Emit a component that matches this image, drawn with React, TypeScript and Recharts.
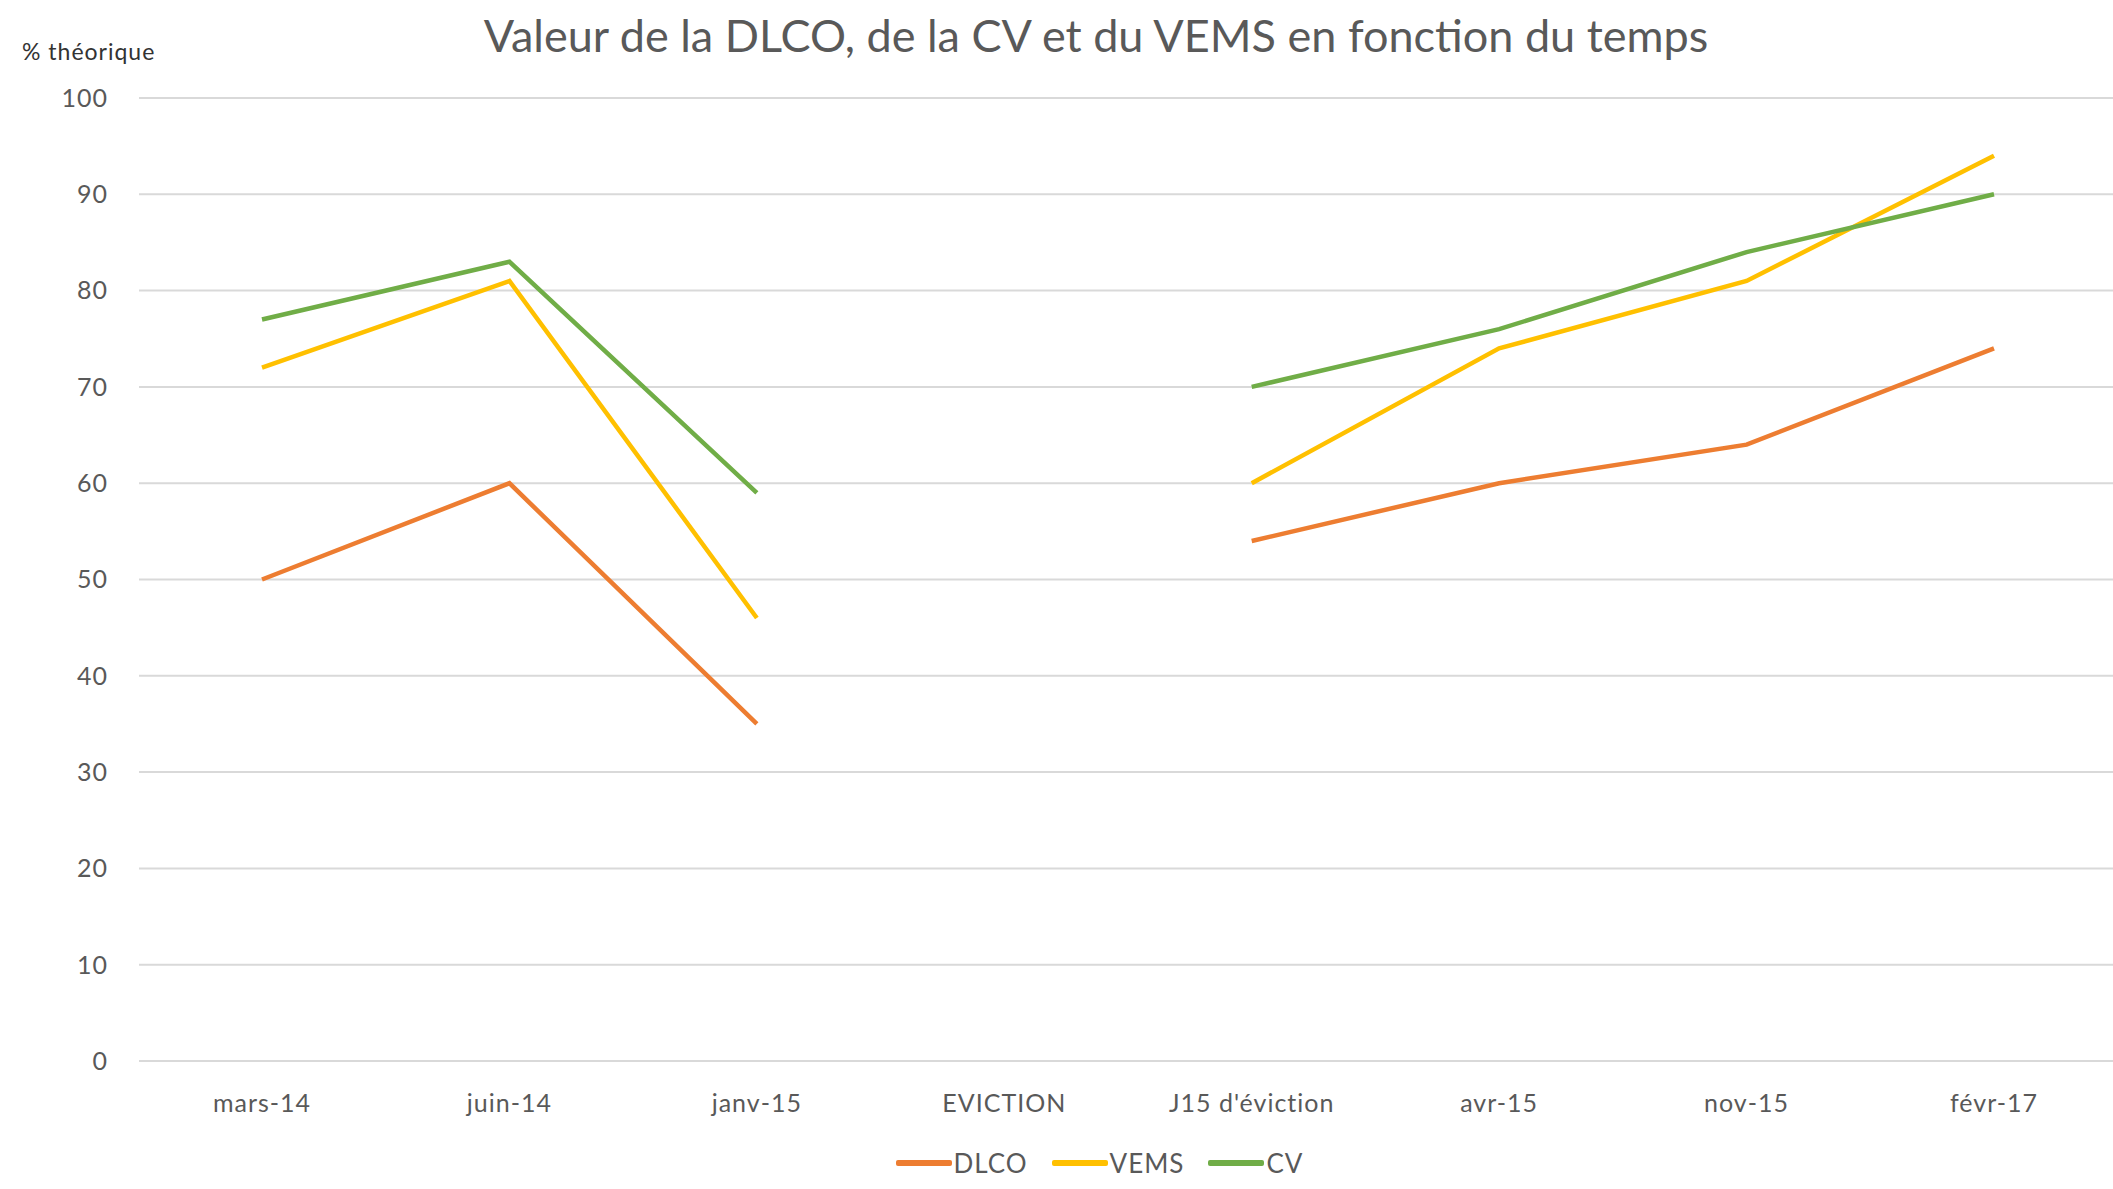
import React from 'react'
import { LineChart, Line, XAxis, YAxis, CartesianGrid, Legend } from 'recharts'

const categories = ['mars-14', 'juin-14', 'janv-15', 'EVICTION', "J15 d'éviction", 'avr-15', 'nov-15', 'févr-17']
const dlco = [50, 60, 35, null, 54, 60, 64, 74]
const vems = [72, 81, 46, null, 60, 74, 81, 94]
const cv = [77, 83, 59, null, 70, 76, 84, 90]
const yTicks = [0, 10, 20, 30, 40, 50, 60, 70, 80, 90, 100]

const series = [
  { dataKey: 'DLCO', color: '#ED7D31' },
  { dataKey: 'VEMS', color: '#FFC000' },
  { dataKey: 'CV', color: '#70AD47' },
]

const data = categories.map((nom, i) => ({ nom, DLCO: dlco[i], VEMS: vems[i], CV: cv[i] }))

const FONT = 'Lato, "Open Sans", sans-serif'
const TEXT = '#595959'

function LegendContent() {
  return (
    <div style={{ display: 'flex', justifyContent: 'center', alignItems: 'center', height: 50 }}>
      <div style={{ display: 'flex', alignItems: 'center', marginLeft: 110 }}>
        {series.map((s) => (
          <div key={s.dataKey} style={{ display: 'flex', alignItems: 'center', marginRight: 24 }}>
            <span style={{ display: 'inline-block', width: 56, height: 6, background: s.color, borderRadius: 2 }} />
            <span style={{ fontFamily: FONT, fontSize: 26, color: TEXT, marginLeft: 2, letterSpacing: 1 }}>
              {s.dataKey}
            </span>
          </div>
        ))}
      </div>
    </div>
  )
}

export default function App() {
  return (
    <div style={{ position: 'absolute', left: 0, top: 0, width: 2113, height: 1189, background: '#fff' }}>
      <div
        style={{
          position: 'absolute',
          top: 8,
          left: 0,
          width: 2192,
          textAlign: 'center',
          fontFamily: FONT,
          fontSize: 45,
          color: TEXT,
        }}
      >
        Valeur de la DLCO, de la CV et du VEMS en fonction du temps
      </div>
      <div
        style={{
          position: 'absolute',
          top: 37,
          left: 22,
          fontFamily: FONT,
          fontSize: 23,
          letterSpacing: 1,
          color: '#333',
        }}
      >
        % théorique
      </div>
      <LineChart width={2113} height={1189} data={data} margin={{ top: 98, right: 0, left: 0, bottom: 1 }}>
        <CartesianGrid vertical={false} stroke="#d9d9d9" strokeWidth={2} />
        <XAxis
          dataKey="nom"
          padding={{ left: 123, right: 119 }}
          axisLine={false}
          tickLine={false}
          tickSize={0}
          tickMargin={33}
          height={77}
          interval={0}
          tick={{ fill: TEXT, fontSize: 25, fontFamily: FONT, letterSpacing: 1 }}
        />
        <YAxis
          domain={[0, 100]}
          ticks={yTicks}
          width={139}
          axisLine={false}
          tickLine={false}
          tickSize={0}
          tickMargin={31}
          tick={{ fill: TEXT, fontSize: 25, fontFamily: FONT, letterSpacing: 1 }}
        />
        <Legend verticalAlign="bottom" height={50} content={<LegendContent />} />
        {series.map((s) => (
          <Line
            key={s.dataKey}
            type="linear"
            dataKey={s.dataKey}
            stroke={s.color}
            strokeWidth={4.5}
            dot={false}
            activeDot={false}
            isAnimationActive={false}
          />
        ))}
      </LineChart>
    </div>
  )
}
